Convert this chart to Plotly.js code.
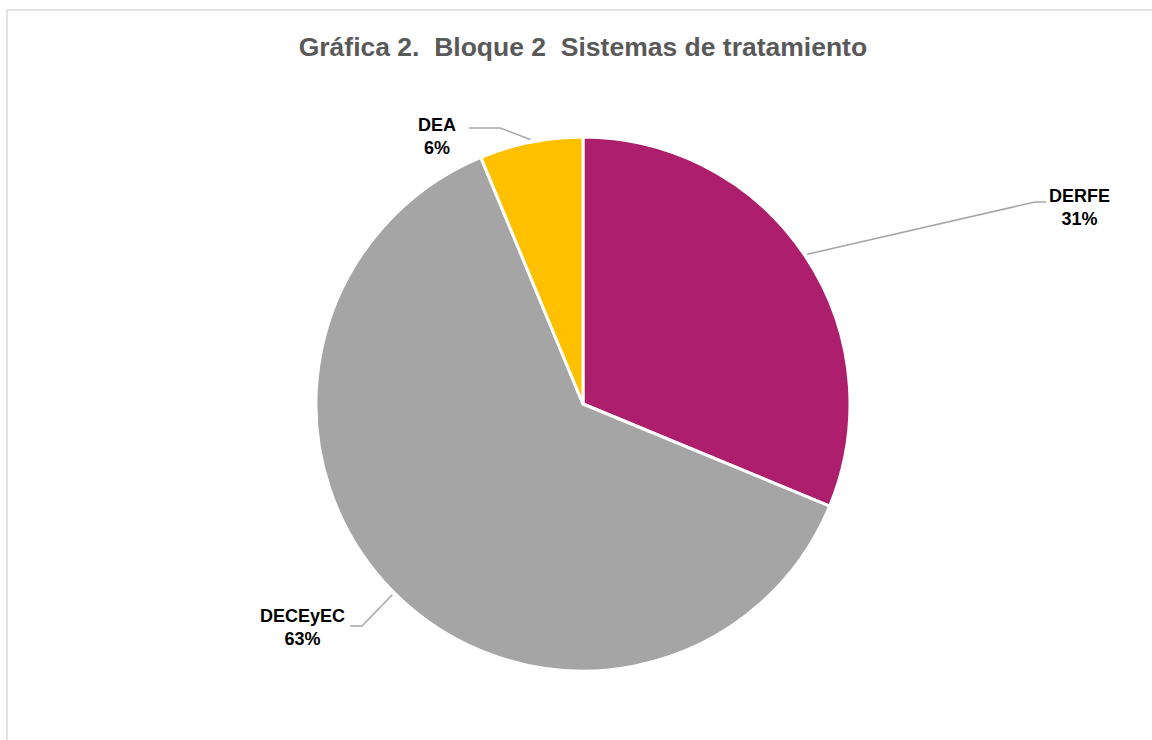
<!DOCTYPE html>
<html>
<head>
<meta charset="utf-8">
<script src="https://cdn.plot.ly/plotly-3.0.1.min.js"></script>
<style>
  html, body { margin: 0; padding: 0; background: #fff; }
  #chart { width: 1152px; height: 740px; }
</style>
</head>
<body>
<div id="chart"></div>
<script>
// data (5/16, 10/16, 1/16 -> 31%, 63%, 6%)
const labels = ["DERFE", "DECEyEC", "DEA"];
const values = [5, 10, 1];
const colors = ["#AD1F6C", "#A5A5A5", "#FFC000"];

// where each label text sits and where its leader line bends (pixels)
const labelPos = [[1079, 207], [302, 627], [437, 136]];
const elbows = [[[1035, 202], [1046, 202]], [[362, 626], [350, 626]], [[500, 128], [469, 128]]];

const W = 1152, H = 740;
const margin = { l: 14, r: 0, t: 137, b: 69 };
const plotW = W - margin.l - margin.r;
const plotH = H - margin.t - margin.b;
const cx = margin.l + plotW / 2;
const cy = margin.t + plotH / 2;
const radius = Math.min(plotW, plotH) / 2;

// pixel -> paper
const px = (x) => (x - margin.l) / plotW;
const py = (y) => (H - margin.b - y) / plotH;

const total = values.reduce((a, b) => a + b, 0);

const annotations = [];
const shapes = [];

// chart border
shapes.push({
  type: "rect", xref: "paper", yref: "paper",
  x0: px(7), x1: px(1160), y0: py(748), y1: py(10),
  line: { color: "#D9D9D9", width: 1.5 },
  fillcolor: "rgba(0,0,0,0)",
  layer: "below",
});

let acc = 0;
values.forEach((v, i) => {
  const frac = v / total;
  // mid angle, clockwise from 12 o'clock
  const mid = (acc + frac / 2) * 2 * Math.PI;
  acc += frac;
  const sx = cx + radius * 1.01 * Math.sin(mid);
  const sy = cy - radius * 1.01 * Math.cos(mid);
  const [e1, e2] = elbows[i];
  shapes.push({
    type: "path", xref: "paper", yref: "paper",
    path: `M ${px(sx)} ${py(sy)} L ${px(e1[0])} ${py(e1[1])} L ${px(e2[0])} ${py(e2[1])}`,
    line: { color: "#A6A6A6", width: 1.5 },
  });
  annotations.push({
    xref: "paper", yref: "paper",
    x: px(labelPos[i][0]), y: py(labelPos[i][1]),
    xanchor: "center", yanchor: "middle",
    text: `<b>${labels[i]}<br>${Math.round(frac * 100)}%</b>`,
    showarrow: false,
    font: { family: "Liberation Sans, Arial, sans-serif", size: 18, color: "#000" },
  });
});

const trace = {
  type: "pie",
  labels: labels,
  values: values,
  sort: false,
  direction: "clockwise",
  rotation: 0,
  textinfo: "none",
  hoverinfo: "label+percent",
  marker: { colors: colors, line: { color: "#ffffff", width: 3 } },
  domain: { x: [0, 1], y: [0, 1] },
  showlegend: false,
};

const layout = {
  width: W,
  height: H,
  margin: margin,
  paper_bgcolor: "#ffffff",
  title: {
    text: "<b>Gráfica 2.\u00A0 Bloque 2\u00A0 Sistemas de tratamiento</b>",
    x: 0.506, xanchor: "center",
    y: 1 - 47 / H, yanchor: "middle",
    yref: "container",
    font: { family: "Liberation Sans, Arial, sans-serif", size: 26.5, color: "#595959" },
  },
  shapes: shapes,
  annotations: annotations,
  showlegend: false,
};

Plotly.newPlot("chart", [trace], layout, { displayModeBar: false });
</script>
</body>
</html>
